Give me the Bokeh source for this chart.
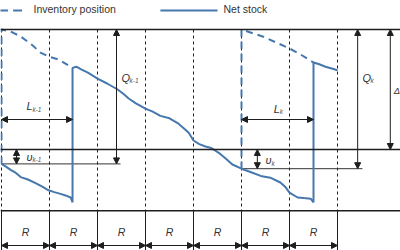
from bokeh.plotting import figure
from bokeh.models import Range1d, Span, Arrow, NormalHead
from bokeh.core.properties import value
from bokeh.embed import file_html
from bokeh.resources import INLINE

# ---- data (time in review periods R, inventory in units with S = 100) ----
S_level = 100
s_level = 0
axis_level = -51
periods = [0, 1, 2, 3, 4, 5, 6, 7]
period_labels = ["R"] * 7

ns_t = [0, 0.1, 0.19, 0.3, 0.4, 0.55, 0.71, 0.85, 0.98, 1.1, 1.23, 1.35, 1.44, 1.48,
        1.48, 1.56, 1.65, 1.8, 2.0, 2.2, 2.42, 2.55, 2.65, 2.8, 3.0, 3.15, 3.31, 3.5,
        3.67, 3.79, 3.9, 4.0, 4.12, 4.25, 4.35, 4.42, 4.55, 4.67, 4.81, 5.0, 5.2,
        5.4, 5.6, 5.81, 5.92, 6.0, 6.17, 6.3, 6.44, 6.5,
        6.5, 6.62, 6.75, 6.88, 7.0]
ns_v = [-12, -14.5, -17, -19.5, -23, -25, -28, -31, -34, -35.5, -37, -38.5, -40, -44,
        68, 69, 67, 64, 59, 55, 50, 46, 42.5, 38.5, 34, 31.5, 28, 26,
        22, 18, 14, 7.5, 4.5, 2.5, 1.5, 0, -3.5, -7.5, -12.5, -16, -19,
        -22, -23.5, -27.5, -31.5, -36, -40, -40.5, -41, -44,
        72.5, 71, 69, 67.5, 66]

ip1_t = [0, 0, 0.19, 0.4, 0.65, 0.81, 0.98, 1.19, 1.48]
ip1_v = [-12, 100, 98.3, 94.2, 86.7, 80.8, 77.5, 75, 68]
ip2_t = [5, 5, 5.44, 5.77, 6.0, 6.23, 6.5]
ip2_v = [-16, 100, 94.2, 88.3, 84.2, 79.2, 72.5]

order_t = [0, 5]
arrival_t = [1.48, 6.5]
order_ip = [-12, -16]

legend_labels = ["Inventory position", "Net stock"]

# ---- figure ----
BLUE = "#4677ad"
INK = "#1e1e1e"
FONT = value("Liberation Sans")
p = figure(width=400, height=250, output_backend="svg", toolbar_location=None,
           x_axis_location=None, y_axis_location=None, min_border=0,
           x_range=Range1d(-1 / 48, 399 / 48), y_range=Range1d(-84.17, 124.17))
p.grid.visible = False
p.outline_line_color = None
p.background_fill_color = "white"
p.border_fill_color = "white"

# level lines
for lev in (S_level, s_level, axis_level):
    p.add_layout(Span(location=lev, dimension="width", line_color=INK, line_width=1.5))

# period lines
p.segment(x0=periods, y0=[S_level] * len(periods), x1=periods, y1=[axis_level] * len(periods),
          line_color=INK, line_width=1, line_dash="3 3")
p.segment(x0=periods, y0=[axis_level] * len(periods), x1=periods, y1=[-90] * len(periods),
          line_color=INK, line_width=1)


def head():
    return NormalHead(size=6, fill_color=INK, line_color=INK, line_width=1)


def darrow(x0, y0, x1, y1, both=True):
    p.add_layout(Arrow(x_start=x0, y_start=y0, x_end=x1, y_end=y1,
                       start=head() if both else None, end=head(),
                       line_color=INK, line_width=1))


# R intervals
for i in range(len(periods) - 1):
    darrow(periods[i], -80, periods[i + 1], -80)
p.text(x=[(periods[i] + periods[i + 1]) / 2 for i in range(len(periods) - 1)],
       y=[-69] * (len(periods) - 1), text=period_labels,
       text_font=FONT, text_font_style="italic", text_font_size="10.5px",
       text_align="center", text_baseline="middle", text_color="#333333")

# thin lines at order IP
p.segment(x0=[order_t[0], order_t[1]], y0=order_ip, x1=[2.48, 7.52], y1=order_ip,
          line_color="#333333", line_width=1)

# Q arrows
darrow(2.396, order_ip[0], 2.396, S_level)
darrow(7.42, order_ip[1], 7.42, S_level)
# Delta arrow
darrow(8.1, s_level, 8.1, S_level)
# L arrows
darrow(order_t[0], 25, arrival_t[0], 25)
darrow(order_t[1], 25, arrival_t[1], 25)
# undershoot arrows
darrow(0.3125, order_ip[0], 0.3125, s_level)
darrow(5.33, order_ip[1], 5.33, s_level)

# curves
p.line(ns_t, ns_v, line_color=BLUE, line_width=2)
p.line(ip1_t, ip1_v, line_color=BLUE, line_width=2, line_dash="7 5")
p.line(ip2_t, ip2_v, line_color=BLUE, line_width=2, line_dash="7 5")


def label(x, y, main, sub, subdx, size="11px"):
    p.text(x=[x], y=[y], text=[main], text_font=FONT, text_font_style="italic",
           text_font_size=size, text_align="left", text_baseline="middle", text_color="#333333")
    if sub:
        p.text(x=[x], y=[y], text=[sub], x_offset=subdx, y_offset=3,
               text_font=FONT, text_font_style="italic",
               text_font_size="6.5px", text_align="left", text_baseline="middle",
               text_color="#555555")


label(2.5, 60, "Q", "k-1", 8)
label(7.52, 60, "Q", "k", 8)
label(0.52, 36, "L", "k-1", 6)
label(5.67, 34, "L", "k", 6)
label(0.52, -6, "υ", "k-1", 6)
label(5.5, -9, "υ", "k", 6)
label(8.17, 49, "Δ", "", 0, "9.5px")

# legend (drawn manually)
p.line([-0.05, 0.5], [115.8, 115.8], line_color=BLUE, line_width=2, line_dash="9 5")
p.line([3.31, 4.5], [115.8, 115.8], line_color=BLUE, line_width=2)
p.text(x=[0.667, 4.625], y=[116.7, 116.7], text=legend_labels, text_font=FONT,
       text_font_size="10.5px", text_align="left", text_baseline="middle", text_color="#333333")

open("out.html", "w").write(file_html(p, INLINE))
